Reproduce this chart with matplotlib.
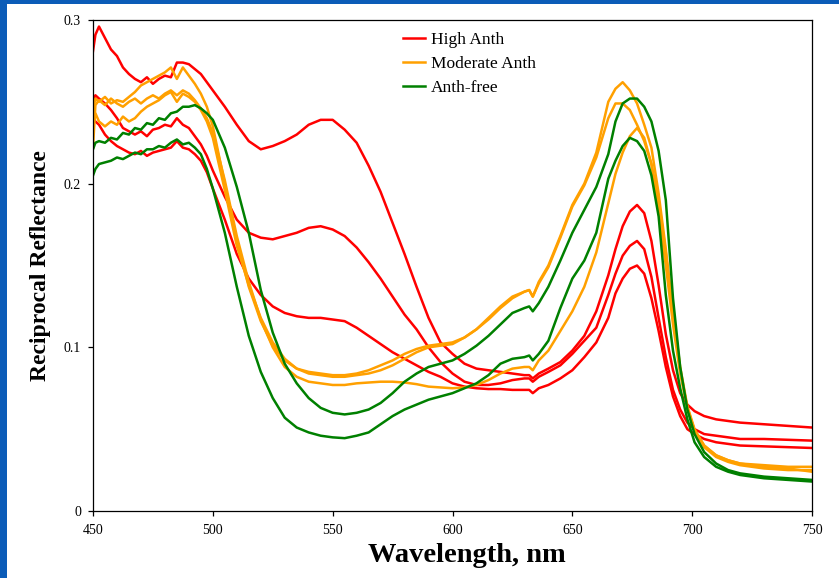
import matplotlib
matplotlib.use("Agg")
import matplotlib.pyplot as plt
from matplotlib.patches import Rectangle

plt.rcParams['font.family'] = ['Liberation Serif', 'DejaVu Serif']

wavelength = [450, 451, 452.5, 455, 457.5, 460, 462.5, 465, 467.5, 470,
              472.5, 475, 477.5, 480, 482.5, 485, 487.5, 490, 492.5, 495,
              497.5, 500, 505, 510, 515, 520, 525, 530, 535, 540,
              545, 550, 555, 560, 565, 570, 575, 580, 585, 590,
              595, 600, 605, 610, 615, 620, 625, 630, 632, 633.5,
              636, 640, 645, 650, 655, 660, 665, 668, 671, 674,
              677, 680, 683, 686, 689, 692, 695, 698, 701, 705,
              710, 715, 720, 730, 740, 750]

high_anth_1 = [0.281, 0.291, 0.296, 0.289, 0.282, 0.278, 0.271, 0.267, 0.264, 0.262,
               0.265, 0.261, 0.264, 0.266, 0.265, 0.274, 0.274, 0.273, 0.270, 0.267,
               0.262, 0.257, 0.247, 0.236, 0.226, 0.221, 0.223, 0.226, 0.230, 0.236,
               0.239, 0.239, 0.233, 0.225, 0.211, 0.195, 0.176, 0.157, 0.137, 0.118,
               0.103, 0.096, 0.090, 0.087, 0.086, 0.085, 0.084, 0.083, 0.083, 0.081,
               0.084, 0.087, 0.091, 0.098, 0.107, 0.122, 0.144, 0.160, 0.174, 0.183,
               0.187, 0.182, 0.165, 0.138, 0.108, 0.086, 0.072, 0.065, 0.061, 0.058,
               0.056, 0.055, 0.054, 0.053, 0.052, 0.051]

high_anth_2 = [0.250, 0.254, 0.252, 0.249, 0.245, 0.240, 0.234, 0.232, 0.230, 0.232,
               0.229, 0.233, 0.234, 0.236, 0.235, 0.240, 0.236, 0.234, 0.229, 0.224,
               0.217, 0.208, 0.192, 0.178, 0.170, 0.167, 0.166, 0.168, 0.170, 0.173,
               0.174, 0.172, 0.168, 0.161, 0.152, 0.142, 0.131, 0.120, 0.111, 0.100,
               0.091, 0.084, 0.079, 0.077, 0.077, 0.078, 0.080, 0.081, 0.081, 0.079,
               0.082, 0.085, 0.089, 0.096, 0.104, 0.112, 0.132, 0.145, 0.156, 0.162,
               0.165, 0.160, 0.143, 0.118, 0.094, 0.074, 0.062, 0.054, 0.050, 0.047,
               0.046, 0.045, 0.044, 0.044, 0.0435, 0.043]

high_anth_3 = [0.240, 0.238, 0.236, 0.230, 0.226, 0.223, 0.221, 0.219, 0.218, 0.220,
               0.217, 0.219, 0.220, 0.221, 0.222, 0.226, 0.222, 0.221, 0.218, 0.214,
               0.207, 0.197, 0.178, 0.157, 0.142, 0.132, 0.125, 0.121, 0.119, 0.118,
               0.118, 0.117, 0.116, 0.112, 0.107, 0.102, 0.097, 0.093, 0.089, 0.085,
               0.082, 0.078, 0.076, 0.075, 0.0745, 0.0745, 0.074, 0.074, 0.074, 0.072,
               0.075, 0.077, 0.081, 0.086, 0.094, 0.103, 0.118, 0.133, 0.142, 0.148,
               0.150, 0.145, 0.130, 0.110, 0.088, 0.070, 0.058, 0.050, 0.047, 0.044,
               0.042, 0.041, 0.040, 0.0395, 0.039, 0.0385]

moderate_anth_1 = [0.245, 0.252, 0.250, 0.253, 0.249, 0.251, 0.250, 0.253, 0.256, 0.260,
                   0.262, 0.264, 0.266, 0.268, 0.271, 0.264, 0.271, 0.266, 0.261, 0.255,
                   0.247, 0.235, 0.200, 0.165, 0.137, 0.116, 0.101, 0.092, 0.087, 0.085,
                   0.084, 0.083, 0.083, 0.084, 0.086, 0.089, 0.092, 0.096, 0.099, 0.101,
                   0.102, 0.103, 0.106, 0.111, 0.118, 0.125, 0.131, 0.134, 0.135, 0.131,
                   0.140, 0.150, 0.168, 0.187, 0.200, 0.219, 0.250, 0.258, 0.262, 0.257,
                   0.249, 0.236, 0.222, 0.194, 0.160, 0.122, 0.088, 0.064, 0.050, 0.040,
                   0.034, 0.031, 0.029, 0.028, 0.027, 0.027]

moderate_anth_2 = [0.236, 0.243, 0.238, 0.235, 0.238, 0.236, 0.241, 0.238, 0.240, 0.244,
                   0.247, 0.249, 0.251, 0.254, 0.256, 0.250, 0.255, 0.253, 0.250, 0.245,
                   0.238, 0.228, 0.196, 0.162, 0.138, 0.118, 0.103, 0.093, 0.087, 0.084,
                   0.083, 0.082, 0.082, 0.083, 0.084, 0.086, 0.089, 0.093, 0.097, 0.100,
                   0.101, 0.102, 0.106, 0.111, 0.117, 0.124, 0.130, 0.134, 0.135, 0.131,
                   0.139, 0.149, 0.167, 0.186, 0.199, 0.216, 0.240, 0.249, 0.249, 0.245,
                   0.236, 0.226, 0.212, 0.190, 0.158, 0.118, 0.086, 0.063, 0.049, 0.039,
                   0.033, 0.030, 0.028, 0.026, 0.025, 0.025]

moderate_anth_3 = [0.222, 0.248, 0.251, 0.248, 0.252, 0.249, 0.247, 0.250, 0.252, 0.249,
                   0.252, 0.254, 0.252, 0.255, 0.257, 0.254, 0.257, 0.255, 0.251, 0.246,
                   0.240, 0.231, 0.202, 0.168, 0.140, 0.117, 0.100, 0.088, 0.082, 0.079,
                   0.078, 0.077, 0.077, 0.078, 0.0785, 0.079, 0.079, 0.0785, 0.0775, 0.076,
                   0.0755, 0.075, 0.0755, 0.077, 0.080, 0.084, 0.087, 0.088, 0.088, 0.086,
                   0.092, 0.098, 0.110, 0.122, 0.137, 0.158, 0.188, 0.206, 0.219, 0.229,
                   0.234, 0.228, 0.212, 0.183, 0.150, 0.114, 0.084, 0.063, 0.049, 0.040,
                   0.034, 0.031, 0.029, 0.027, 0.026, 0.024]

anth_free_1 = [0.221, 0.225, 0.226, 0.225, 0.228, 0.227, 0.231, 0.230, 0.234, 0.233,
               0.237, 0.236, 0.240, 0.239, 0.243, 0.244, 0.247, 0.247, 0.248, 0.246,
               0.243, 0.239, 0.222, 0.198, 0.170, 0.135, 0.109, 0.090, 0.078, 0.069,
               0.063, 0.060, 0.059, 0.060, 0.062, 0.066, 0.072, 0.079, 0.084, 0.088,
               0.090, 0.092, 0.096, 0.101, 0.107, 0.114, 0.121, 0.124, 0.125, 0.122,
               0.127, 0.137, 0.153, 0.170, 0.184, 0.198, 0.218, 0.238, 0.249, 0.252,
               0.252, 0.247, 0.238, 0.220, 0.190, 0.130, 0.088, 0.062, 0.047, 0.036,
               0.029, 0.025, 0.023, 0.021, 0.020, 0.019]

anth_free_2 = [0.205, 0.209, 0.212, 0.213, 0.214, 0.216, 0.215, 0.217, 0.219, 0.218,
               0.221, 0.221, 0.223, 0.222, 0.225, 0.227, 0.224, 0.225, 0.222, 0.218,
               0.209, 0.197, 0.170, 0.137, 0.107, 0.085, 0.069, 0.057, 0.051, 0.048,
               0.046, 0.045, 0.0445, 0.046, 0.048, 0.053, 0.058, 0.062, 0.065, 0.068,
               0.070, 0.072, 0.075, 0.078, 0.083, 0.090, 0.093, 0.094, 0.095, 0.092,
               0.096, 0.104, 0.124, 0.142, 0.153, 0.170, 0.203, 0.214, 0.223, 0.228,
               0.226, 0.220, 0.205, 0.180, 0.132, 0.098, 0.075, 0.056, 0.042, 0.033,
               0.027, 0.024, 0.022, 0.020, 0.019, 0.018]

legend_labels = ["High Anth", "Moderate Anth", "Anth-free"]
x_ticks = [450, 500, 550, 600, 650, 700, 750]
y_ticks = [0, 0.1, 0.2, 0.3]
y_tick_labels = ["0", "0.1", "0.2", "0.3"]

RED, ORANGE, GREEN = "#FF0000", "#FFA000", "#008000"

fig = plt.figure(figsize=(8.39, 5.78), dpi=100, facecolor="#0B5CB8")
fig.patches.append(Rectangle((7 / 839, 0), 1 - 7 / 839, 1 - 3.5 / 578,
                             transform=fig.transFigure, facecolor="white",
                             edgecolor="none", zorder=-5))
ax = fig.add_axes([93 / 839, 1 - 511 / 578, 719 / 839, 491 / 578])
ax.set_facecolor("white")

lw = 1.8
groups = [
    ([high_anth_1, high_anth_2, high_anth_3], RED, legend_labels[0]),
    ([moderate_anth_1, moderate_anth_2, moderate_anth_3], ORANGE, legend_labels[1]),
    ([anth_free_1, anth_free_2], GREEN, legend_labels[2]),
]
for series, color, label in groups:
    for i, s in enumerate(series):
        ax.plot(wavelength, s, color=color, lw=lw,
                label=label if i == 0 else None, solid_joinstyle="round")

ax.set_xlim(450, 750)
ax.set_ylim(0, 0.3)
ax.set_xticks(x_ticks)
ax.set_xticklabels([str(t) for t in x_ticks])
ax.set_yticks(y_ticks)
ax.set_yticklabels(y_tick_labels)
ax.tick_params(direction="out", length=3.6, width=0.9, labelsize=10, colors="black")
ax.tick_params(axis="x", pad=6)
ax.tick_params(axis="y", pad=5)
for sp in ax.spines.values():
    sp.set_linewidth(0.9)
    sp.set_color("black")

ax.set_xlabel("Wavelength, nm", fontsize=20.5, fontweight="bold", x=0.52, labelpad=4)
ax.set_ylabel("Reciprocal Reflectance", fontsize=17, fontweight="bold", labelpad=9)

ax.legend(loc="upper left", bbox_to_anchor=(0.431, 0.975), frameon=False,
          fontsize=12.5, handlelength=1.3, handletextpad=0.3, labelspacing=0.45,
          borderpad=0, borderaxespad=0)

fig.savefig("out.png", dpi=100, facecolor=fig.get_facecolor())
